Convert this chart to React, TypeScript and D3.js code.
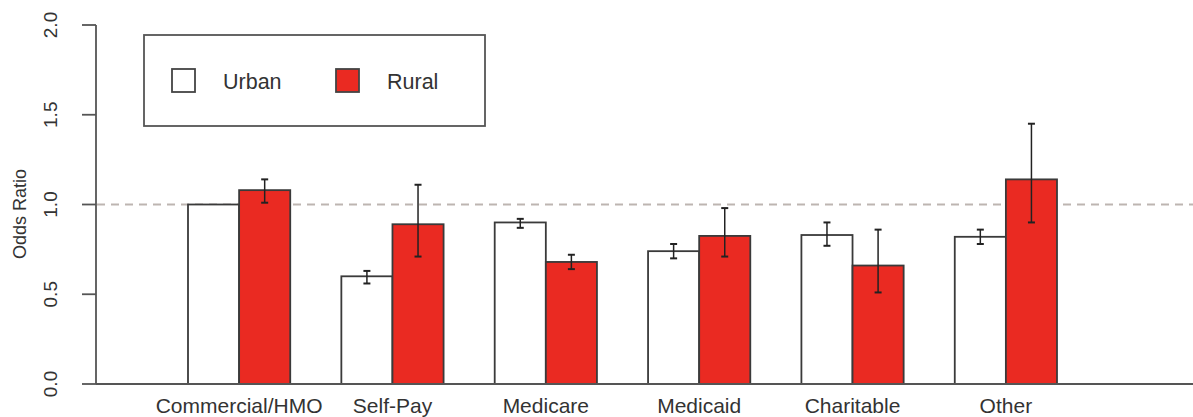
import { useEffect, useRef } from 'react';
import * as d3 from 'd3';

const categories = ['Commercial/HMO', 'Self-Pay', 'Medicare', 'Medicaid', 'Charitable', 'Other'];
const series = ['Urban', 'Rural'];
const urban = [1.0, 0.6, 0.9, 0.74, 0.83, 0.82];
const urbanLo = [null, 0.56, 0.87, 0.7, 0.77, 0.78];
const urbanHi = [null, 0.63, 0.92, 0.78, 0.9, 0.86];
const rural = [1.08, 0.89, 0.68, 0.825, 0.66, 1.14];
const ruralLo = [1.01, 0.71, 0.64, 0.71, 0.51, 0.9];
const ruralHi = [1.14, 1.11, 0.72, 0.98, 0.86, 1.45];
const yTicks = [0, 0.5, 1, 1.5, 2];

const W = 1193;
const H = 417;
const FONT = '"Liberation Sans", Arial, Helvetica, sans-serif';
const RED = '#ea2a22';
const INK = '#333';

export default function App() {
  const svgRef = useRef<SVGSVGElement | null>(null);

  useEffect(() => {
    if (!svgRef.current) return;
    const svg = d3.select(svgRef.current);
    svg.selectAll('*').remove();

    const y = d3.scaleLinear().domain([0, 2]).range([384, 25]);
    const xg = d3.scaleBand().domain(categories).range([188, 1057]).paddingInner(1 / 3).paddingOuter(0);
    const xs = d3.scaleBand().domain(series).range([0, xg.bandwidth()]);

    const rows = categories.map((c, i) => ({
      cat: c,
      vals: [
        { s: 'Urban', v: urban[i], lo: urbanLo[i], hi: urbanHi[i] },
        { s: 'Rural', v: rural[i], lo: ruralLo[i], hi: ruralHi[i] },
      ],
    }));

    // reference line at 1
    svg.append('line')
      .attr('x1', 97).attr('x2', W).attr('y1', y(1)).attr('y2', y(1))
      .attr('stroke', '#bdb5b1').attr('stroke-width', 2).attr('stroke-dasharray', '8,6');

    // bars
    const g = svg.selectAll('g.grp').data(rows).enter().append('g')
      .attr('transform', d => `translate(${xg(d.cat)},0)`);
    g.selectAll('rect').data(d => d.vals).enter().append('rect')
      .attr('x', d => xs(d.s)!)
      .attr('y', d => y(d.v))
      .attr('width', xs.bandwidth())
      .attr('height', d => y(0) - y(d.v))
      .attr('fill', d => (d.s === 'Rural' ? RED : '#fff'))
      .attr('stroke', '#3a3a3a').attr('stroke-width', 1.8);

    // error bars
    g.selectAll('g.err').data(d => d.vals.filter(v => v.lo != null)).enter().append('g')
      .each(function (d) {
        const cx = xs(d.s)! + xs.bandwidth() / 2;
        const e = d3.select(this);
        e.append('line').attr('x1', cx).attr('x2', cx).attr('y1', y(d.lo!)).attr('y2', y(d.hi!))
          .attr('stroke', '#222').attr('stroke-width', 1.5);
        [d.lo!, d.hi!].forEach(v => {
          e.append('line').attr('x1', cx - 3.5).attr('x2', cx + 3.5).attr('y1', y(v)).attr('y2', y(v))
            .attr('stroke', '#222').attr('stroke-width', 2);
        });
      });

    // baseline
    svg.append('line').attr('x1', 96).attr('x2', W).attr('y1', y(0)).attr('y2', y(0))
      .attr('stroke', '#555').attr('stroke-width', 1.8);

    // y axis
    const ax = svg.append('g');
    ax.append('line').attr('x1', 96).attr('x2', 96).attr('y1', y(0)).attr('y2', y(2))
      .attr('stroke', '#555').attr('stroke-width', 1.8);
    yTicks.forEach(t => {
      ax.append('line').attr('x1', 82).attr('x2', 96).attr('y1', y(t)).attr('y2', y(t))
        .attr('stroke', '#555').attr('stroke-width', 1.8);
      ax.append('text')
        .attr('transform', `translate(57,${y(t)}) rotate(-90)`)
        .attr('text-anchor', 'middle')
        .attr('fill', INK).style('font-family', FONT).style('font-size', '19px')
        .text(d3.format('.1f')(t));
    });
    svg.append('text')
      .attr('transform', `translate(26,214) rotate(-90)`)
      .attr('text-anchor', 'middle')
      .attr('fill', INK).style('font-family', FONT).style('font-size', '18px')
      .text('Odds Ratio');

    // category labels
    svg.selectAll('text.cat').data(categories).enter().append('text')
      .attr('x', d => xg(d)! + xg.bandwidth() / 2)
      .attr('y', 413)
      .attr('text-anchor', 'middle')
      .attr('fill', INK).style('font-family', FONT).style('font-size', '21px')
      .text(d => d);

    // legend
    const lg = svg.append('g');
    lg.append('rect').attr('x', 144).attr('y', 35).attr('width', 341).attr('height', 91)
      .attr('fill', '#fff').attr('stroke', '#555').attr('stroke-width', 1.8);
    const items = [
      { s: 'Urban', x: 172, tx: 223, fill: '#fff' },
      { s: 'Rural', x: 336, tx: 387, fill: RED },
    ];
    items.forEach(it => {
      lg.append('rect').attr('x', it.x).attr('y', 69).attr('width', 23).attr('height', 23)
        .attr('fill', it.fill).attr('stroke', '#444').attr('stroke-width', 1.8);
      lg.append('text').attr('x', it.tx).attr('y', 89)
        .attr('fill', INK).style('font-family', FONT).style('font-size', '21.5px')
        .text(it.s);
    });
  }, []);

  return (
    <svg
      ref={svgRef}
      width={W}
      height={H}
      style={{ position: 'absolute', left: 0, top: 0, background: '#fff' }}
    />
  );
}
